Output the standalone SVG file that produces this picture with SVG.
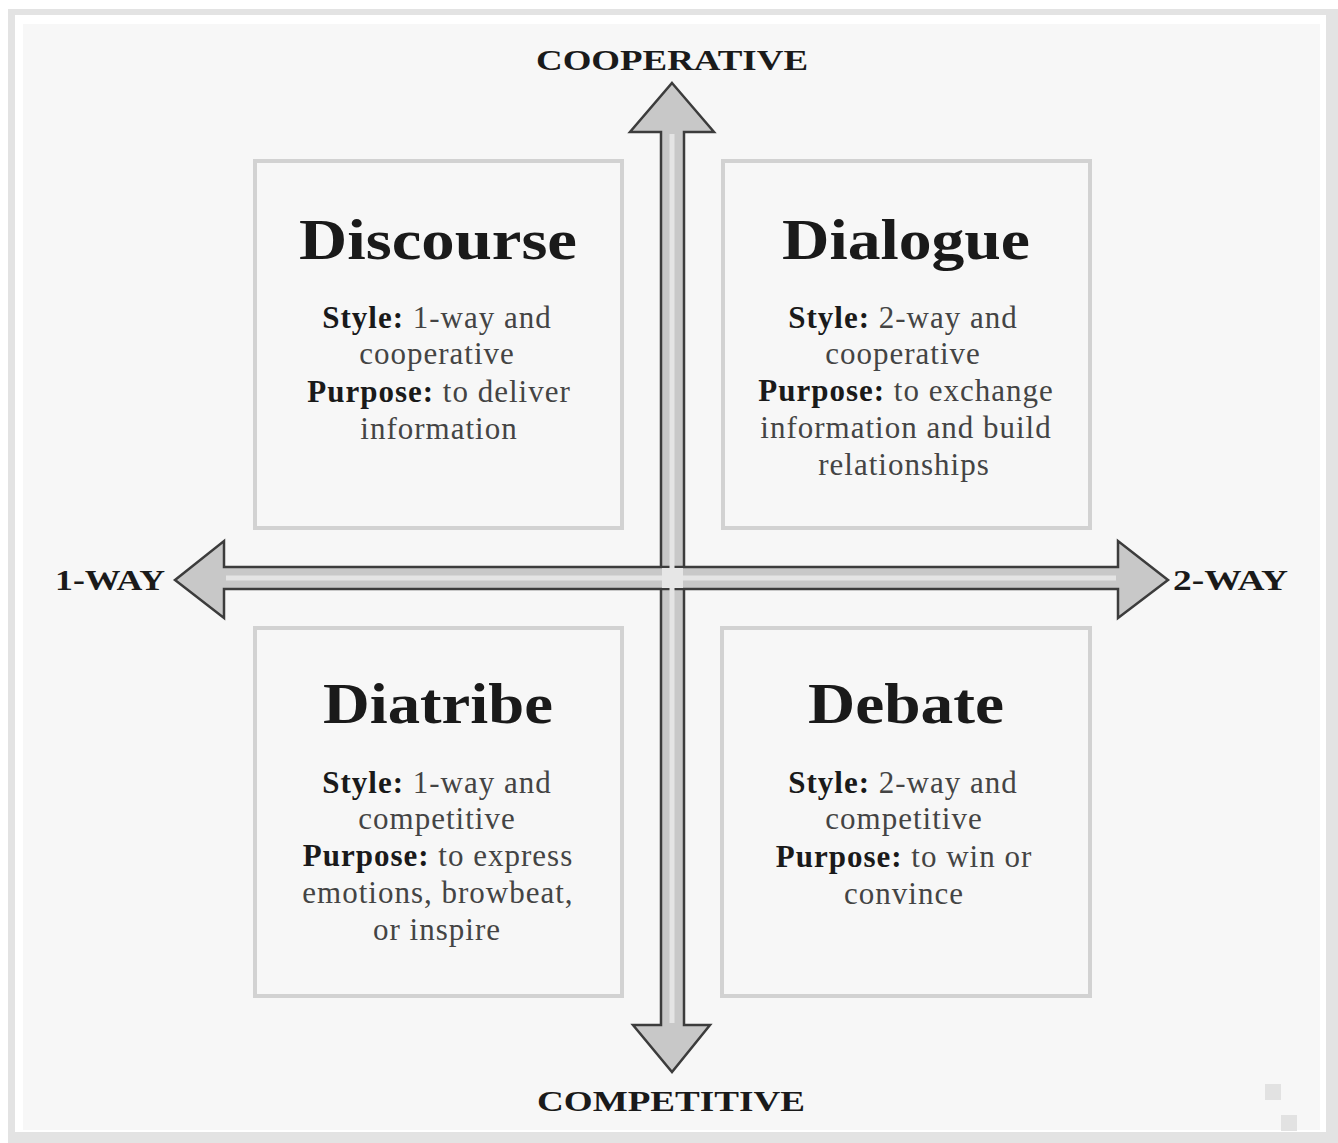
<svg xmlns="http://www.w3.org/2000/svg" width="1338" height="1143" viewBox="0 0 1338 1143">
<style>
.box{fill:none;stroke:#d2d2d2;stroke-width:4}
.title{font-family:"Liberation Serif",serif;font-weight:bold;font-size:58px;fill:#1a1a1a;text-anchor:middle}
.body{font-family:"Liberation Serif",serif;font-size:31px;letter-spacing:1px;fill:#444;text-anchor:middle}
.b{font-weight:bold;fill:#1a1a1a}
.axis{font-family:"Liberation Serif",serif;font-weight:bold;font-size:30px;fill:#1a1a1a}
.arrow{fill:#c8c8c8;stroke:#3c3c3c;stroke-width:2.5;stroke-linejoin:miter}
.stripe{stroke:#e4e4e4;stroke-width:5}
</style>
<rect x="0" y="0" width="1338" height="1143" fill="#ffffff"/>
<rect x="8" y="9" width="1330" height="1134" fill="#e3e3e3"/>
<rect x="15" y="15" width="1311" height="1117" fill="#ffffff"/>
<rect x="23" y="24" width="1297" height="1106" fill="#f7f7f7"/>
<rect x="1265" y="1084" width="16" height="16" fill="#e2e2e2"/>
<rect x="1281" y="1115" width="16" height="16" fill="#e2e2e2"/>

<g id="connectors">
  <polygon class="arrow" points="672,83 714,132 684,132 684,1025 710,1025 672,1072 633,1025 661,1025 661,132 630,132"/>
  <polygon class="arrow" points="175,580 224,541 224,567 1118,567 1118,541 1168,580 1118,618 1118,589 224,589 224,618"/>
  <line class="stripe" x1="672" y1="134" x2="672" y2="1023"/>
  <line class="stripe" x1="226" y1="578" x2="1116" y2="578"/>
  <rect x="662" y="568" width="21" height="20" fill="#e6e6e6"/>
</g>

<g id="label-cooperative"><text class="axis" x="672" y="70" text-anchor="middle" textLength="272" lengthAdjust="spacingAndGlyphs">COOPERATIVE</text></g>
<g id="label-competitive"><text class="axis" x="671" y="1111" text-anchor="middle" textLength="268" lengthAdjust="spacingAndGlyphs">COMPETITIVE</text></g>
<g id="label-1way"><text class="axis" x="55" y="590" textLength="110" lengthAdjust="spacingAndGlyphs">1-WAY</text></g>
<g id="label-2way"><text class="axis" x="1173" y="590" textLength="115" lengthAdjust="spacingAndGlyphs">2-WAY</text></g>

<g id="discourse">
  <rect class="box" x="255" y="161" width="367" height="367"/>
  <text class="title" x="438" y="259" textLength="278" lengthAdjust="spacingAndGlyphs">Discourse</text>
  <text class="body" x="437" y="328"><tspan class="b">Style:</tspan> 1-way and</text>
  <text class="body" x="437" y="364">cooperative</text>
  <text class="body" x="439" y="402"><tspan class="b">Purpose:</tspan> to deliver</text>
  <text class="body" x="439" y="439">information</text>
</g>

<g id="dialogue">
  <rect class="box" x="723" y="161" width="367" height="367"/>
  <text class="title" x="906" y="259" textLength="248" lengthAdjust="spacingAndGlyphs">Dialogue</text>
  <text class="body" x="903" y="328"><tspan class="b">Style:</tspan> 2-way and</text>
  <text class="body" x="903" y="364">cooperative</text>
  <text class="body" x="906" y="401"><tspan class="b">Purpose:</tspan> to exchange</text>
  <text class="body" x="906" y="438">information and build</text>
  <text class="body" x="904" y="475">relationships</text>
</g>

<g id="diatribe">
  <rect class="box" x="255" y="628" width="367" height="368"/>
  <text class="title" x="438" y="723" textLength="230" lengthAdjust="spacingAndGlyphs">Diatribe</text>
  <text class="body" x="437" y="793"><tspan class="b">Style:</tspan> 1-way and</text>
  <text class="body" x="437" y="829">competitive</text>
  <text class="body" x="438" y="866"><tspan class="b">Purpose:</tspan> to express</text>
  <text class="body" x="438" y="903">emotions, browbeat,</text>
  <text class="body" x="437" y="940">or inspire</text>
</g>

<g id="debate">
  <rect class="box" x="722" y="628" width="368" height="368"/>
  <text class="title" x="906" y="723" textLength="196" lengthAdjust="spacingAndGlyphs">Debate</text>
  <text class="body" x="903" y="793"><tspan class="b">Style:</tspan> 2-way and</text>
  <text class="body" x="904" y="829">competitive</text>
  <text class="body" x="904" y="867"><tspan class="b">Purpose:</tspan> to win or</text>
  <text class="body" x="904" y="904">convince</text>
</g>
</svg>
